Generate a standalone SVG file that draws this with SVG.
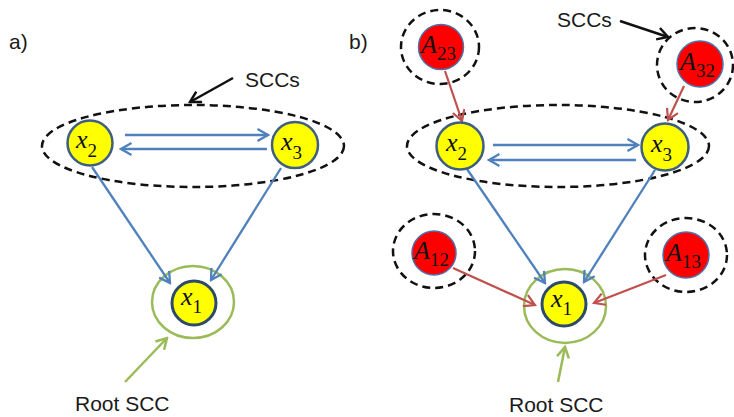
<svg xmlns="http://www.w3.org/2000/svg" width="734" height="417" viewBox="0 0 734 417">
  <style>
    .lbl { font-family: "Liberation Sans", Arial, sans-serif; font-size: 21px; fill: #1a1a1a; }
    .var { font-family: "Liberation Serif", "Times New Roman", serif; font-style: italic; font-size: 26px; fill: #111; }
    .sub { font-family: "Liberation Serif", "Times New Roman", serif; font-style: normal; font-size: 19px; }
    .yel { fill: #FFFF00; stroke: #3E5F80; stroke-width: 2.5; }
    .yel1 { fill: #FFFF00; stroke: #2C4A6A; stroke-width: 3; }
    .red { fill: #FF0000; stroke: #4F6FA8; stroke-width: 1.5; }
    .scc { fill: none; stroke: #111; stroke-width: 2.5; stroke-dasharray: 8 5; }
    .root { fill: none; stroke: #9BBB59; stroke-width: 2.5; }
    .eb { stroke: #4F81BD; stroke-width: 2.3; fill: none; marker-end: url(#hBlue); }
    .er { stroke: #C0504D; stroke-width: 2.2; fill: none; marker-end: url(#hRed); }
    .eg { stroke: #9BBB59; stroke-width: 2.5; fill: none; marker-end: url(#hGreen); }
    .ek { stroke: #111; stroke-width: 2.5; fill: none; marker-end: url(#hBlack); }
  </style>
  <defs>
    <marker id="hBlue" viewBox="0 0 14 14" refX="12" refY="7" markerWidth="14" markerHeight="14" markerUnits="userSpaceOnUse" orient="auto">
      <path d="M1.5,1 L12,7 L1.5,13" fill="none" stroke="#4F81BD" stroke-width="2.3"/>
    </marker>
    <marker id="hRed" viewBox="0 0 14 14" refX="12" refY="7" markerWidth="14" markerHeight="14" markerUnits="userSpaceOnUse" orient="auto">
      <path d="M1.5,1 L12,7 L1.5,13" fill="none" stroke="#C0504D" stroke-width="2.2"/>
    </marker>
    <marker id="hGreen" viewBox="0 0 14 14" refX="12" refY="7" markerWidth="14" markerHeight="14" markerUnits="userSpaceOnUse" orient="auto">
      <path d="M1.5,1 L12,7 L1.5,13" fill="none" stroke="#9BBB59" stroke-width="2.5"/>
    </marker>
    <marker id="hBlack" viewBox="0 0 14 14" refX="12" refY="7" markerWidth="14" markerHeight="14" markerUnits="userSpaceOnUse" orient="auto">
      <path d="M1.5,1 L12,7 L1.5,13" fill="none" stroke="#111" stroke-width="2.5"/>
    </marker>
  </defs>

  <rect width="734" height="417" fill="#fff"/>

  <!-- panel labels and callouts -->
  <g id="labels">
    <text class="lbl" x="9" y="49">a)</text>
    <text class="lbl" x="349" y="49">b)</text>
    <text class="lbl" x="245" y="87">SCCs</text>
    <text class="lbl" x="557" y="27">SCCs</text>
    <text class="lbl" x="75" y="411">Root SCC</text>
    <text class="lbl" x="509" y="412">Root SCC</text>
  </g>

  <!-- SCC groupings -->
  <g id="sccs">
    <ellipse class="scc" cx="193" cy="146" rx="151" ry="41"/>
    <ellipse class="scc" cx="558" cy="146" rx="151" ry="41"/>
    <ellipse class="scc" cx="440" cy="47" rx="39" ry="37"/>
    <ellipse class="scc" cx="695" cy="65" rx="38" ry="37"/>
    <ellipse class="scc" cx="434" cy="251" rx="41" ry="37"/>
    <ellipse class="scc" cx="686" cy="255" rx="41" ry="37"/>
    <ellipse class="root" cx="193" cy="302" rx="41" ry="36"/>
    <ellipse class="root" cx="565" cy="306" rx="41" ry="37"/>
  </g>

  <!-- connectors -->
  <g id="connectors">
    <!-- panel a -->
    <line class="eb" x1="125" y1="135" x2="268" y2="135"/>
    <line class="eb" x1="267" y1="149" x2="121" y2="149"/>
    <line class="eb" x1="92" y1="167" x2="170" y2="283"/>
    <line class="eb" x1="281" y1="168" x2="211" y2="280"/>
    <line class="ek" x1="233" y1="78" x2="190" y2="102"/>
    <line class="eg" x1="125" y1="382" x2="167" y2="338"/>
    <!-- panel b -->
    <line class="eb" x1="493" y1="145" x2="638" y2="145"/>
    <line class="eb" x1="636" y1="160" x2="489" y2="160"/>
    <line class="eb" x1="467" y1="169" x2="545" y2="283"/>
    <line class="eb" x1="655" y1="170" x2="584" y2="282"/>
    <line class="er" x1="445" y1="71" x2="462" y2="121"/>
    <line class="er" x1="684" y1="86" x2="668" y2="120"/>
    <line class="er" x1="453" y1="268" x2="535" y2="305"/>
    <line class="er" x1="666" y1="275" x2="594" y2="303"/>
    <line class="ek" x1="620" y1="21" x2="668" y2="37"/>
    <line class="eg" x1="558" y1="382" x2="565" y2="347"/>
  </g>

  <!-- panel a nodes -->
  <g id="a-x2">
    <circle class="yel" cx="90" cy="143" r="22.5"/>
    <text class="var" x="76" y="148">x<tspan class="sub" dy="9">2</tspan></text>
  </g>
  <g id="a-x3">
    <circle class="yel" cx="295" cy="145" r="23"/>
    <text class="var" x="281" y="150">x<tspan class="sub" dy="9">3</tspan></text>
  </g>
  <g id="a-x1">
    <circle class="yel1" cx="194" cy="303" r="22"/>
    <text class="var" x="181" y="305">x<tspan class="sub" dy="8">1</tspan></text>
  </g>

  <!-- panel b nodes -->
  <g id="b-x2">
    <circle class="yel" cx="460" cy="146" r="23.5"/>
    <text class="var" x="446" y="151">x<tspan class="sub" dy="9">2</tspan></text>
  </g>
  <g id="b-x3">
    <circle class="yel" cx="665" cy="147" r="23.5"/>
    <text class="var" x="651" y="152">x<tspan class="sub" dy="9">3</tspan></text>
  </g>
  <g id="b-x1">
    <circle class="yel1" cx="564" cy="304" r="22"/>
    <text class="var" x="551" y="307">x<tspan class="sub" dy="8">1</tspan></text>
  </g>
  <g id="b-a23">
    <circle class="red" cx="441" cy="47" r="22.5"/>
    <text class="var" x="421" y="53">A<tspan class="sub" dy="7">23</tspan></text>
  </g>
  <g id="b-a32">
    <circle class="red" cx="700" cy="64" r="23"/>
    <text class="var" x="680" y="70">A<tspan class="sub" dy="7">32</tspan></text>
  </g>
  <g id="b-a12">
    <circle class="red" cx="434" cy="253" r="22"/>
    <text class="var" x="414" y="259">A<tspan class="sub" dy="7">12</tspan></text>
  </g>
  <g id="b-a13">
    <circle class="red" cx="686" cy="255" r="23"/>
    <text class="var" x="666" y="261">A<tspan class="sub" dy="7">13</tspan></text>
  </g>
</svg>
